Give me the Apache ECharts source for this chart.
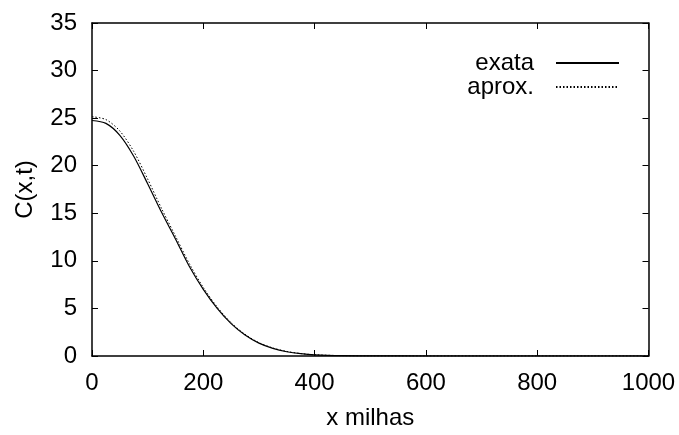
<!DOCTYPE html>
<html>
<head>
<meta charset="utf-8">
<script src="https://cdn.jsdelivr.net/npm/echarts@6/dist/echarts.min.js"></script>
<style>
html,body{margin:0;padding:0;background:#fff;}
#chart{width:679px;height:435px;}
</style>
</head>
<body>
<div id="chart"></div>
<script>
// x positions (milhas)
const xs = [0, 25, 50, 75, 100, 125, 150, 175, 200, 225, 250, 275, 300, 325, 350, 375, 400, 450, 500, 600, 700, 800, 900, 1000];
// exact solution C(x,t)
const exata = [24.75, 24.45, 23.2, 21.0, 18.1, 15.1, 12.3, 9.4, 7.0, 5.0, 3.4, 2.2, 1.35, 0.8, 0.45, 0.24, 0.12, 0.03, 0.01, 0, 0, 0, 0, 0];
// approximate solution
const aprox = [25.15, 24.85, 23.65, 21.5, 18.6, 15.5, 12.6, 9.7, 7.2, 5.15, 3.5, 2.28, 1.4, 0.84, 0.48, 0.26, 0.13, 0.035, 0.01, 0, 0, 0, 0, 0];
const seriesNames = ['exata', 'aprox.'];
const xTicks = [0, 200, 400, 600, 800, 1000];
const yTicks = [0, 5, 10, 15, 20, 25, 30, 35];

const font = 'Liberation Sans, Arial, Helvetica, sans-serif';
const pairs = arr => xs.map((x, i) => [x, arr[i]]);

const chart = echarts.init(document.getElementById('chart'), null, {renderer: 'canvas'});
const axisLineStyle = {color: '#000', width: 1.5};
const tick = {show: true, inside: true, length: 6, lineStyle: {color: '#000', width: 1}};
chart.setOption({
  animation: false,
  backgroundColor: '#fff',
  grid: {left: 92, right: 30.5, top: 23, bottom: 74, containLabel: false},
  legend: {
    orient: 'vertical',
    right: 54,
    top: 46,
    align: 'right',
    itemWidth: 63,
    itemHeight: 14,
    itemGap: 0,
    itemStyle: {opacity: 0, borderWidth: 0},
    textStyle: {fontFamily: font, fontSize: 24, color: '#000', padding: [0, 17, 0, 0]},
    data: seriesNames
  },
  xAxis: [{
    type: 'value', min: xTicks[0], max: xTicks[xTicks.length - 1], interval: 200,
    name: 'x milhas', nameLocation: 'middle', nameGap: 50,
    nameTextStyle: {fontFamily: font, fontSize: 24, color: '#000'},
    axisLine: {show: true, onZero: false, lineStyle: axisLineStyle},
    axisTick: tick,
    axisLabel: {fontFamily: font, fontSize: 24, color: '#000', margin: 15, formatter: v => String(v)},
    splitLine: {show: false}
  }, {
    type: 'value', position: 'top', min: xTicks[0], max: xTicks[xTicks.length - 1], interval: 200,
    axisLine: {show: true, onZero: false, lineStyle: axisLineStyle},
    axisTick: tick,
    axisLabel: {show: false},
    splitLine: {show: false}
  }],
  yAxis: [{
    type: 'value', min: yTicks[0], max: yTicks[yTicks.length - 1], interval: 5,
    name: 'C(x,t)', nameLocation: 'middle', nameGap: 55, nameRotate: 90,
    nameTextStyle: {fontFamily: font, fontSize: 24, color: '#000'},
    axisLine: {show: true, onZero: false, lineStyle: axisLineStyle},
    axisTick: tick,
    axisLabel: {fontFamily: font, fontSize: 24, color: '#000', margin: 15},
    splitLine: {show: false}
  }, {
    type: 'value', position: 'right', min: yTicks[0], max: yTicks[yTicks.length - 1], interval: 5,
    axisLine: {show: true, onZero: false, lineStyle: axisLineStyle},
    axisTick: tick,
    axisLabel: {show: false},
    splitLine: {show: false}
  }],
  series: [{
    name: seriesNames[0], type: 'line', smooth: 0.3, symbol: 'none',
    data: pairs(exata),
    lineStyle: {color: '#000', width: 1.2, type: 'solid'},
    itemStyle: {color: '#000'}
  }, {
    name: seriesNames[1], type: 'line', smooth: 0.3, symbol: 'none',
    data: pairs(aprox),
    lineStyle: {color: '#000', width: 1, type: [1.5, 2]},
    itemStyle: {color: '#000'}
  }]
});
</script>
</body>
</html>
